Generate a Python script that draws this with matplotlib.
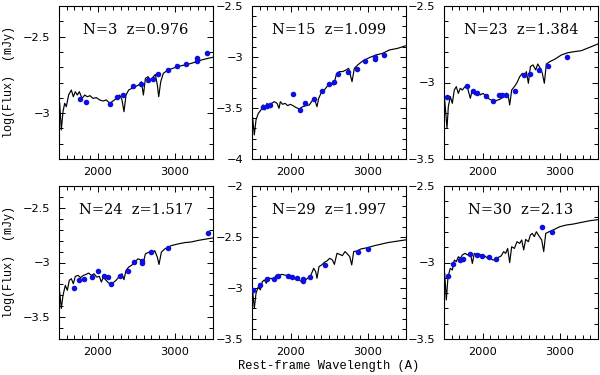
import matplotlib
matplotlib.use("Agg")
import matplotlib.pyplot as plt
from matplotlib.ticker import MultipleLocator, FuncFormatter

# model spectra (rest-frame wavelength in A, log flux in mJy) and photometry
wl_n3 = [1500, 1509, 1530, 1552, 1574, 1595, 1626, 1660, 1686, 1712, 1738, 1764, 1799, 1834,
         1868, 1903, 1942, 1985, 2028, 2072, 2115, 2158, 2202, 2245, 2288, 2318, 2344, 2370,
         2405, 2448, 2492, 2535, 2570, 2596, 2622, 2656, 2691, 2725, 2751, 2777, 2795, 2821,
         2855, 2916, 3003, 3089, 3176, 3262, 3349, 3436, 3500]
fl_n3 = [-2.914, -2.936, -3.11, -2.99, -2.936, -2.958, -2.88, -2.849, -2.893, -2.86, -2.882,
         -2.86, -2.904, -2.882, -2.893, -2.886, -2.904, -2.899, -2.914, -2.921, -2.914, -2.936,
         -2.921, -2.904, -2.882, -2.914, -2.991, -2.882, -2.849, -2.838, -2.827, -2.816, -2.795,
         -2.882, -2.773, -2.762, -2.784, -2.762, -2.747, -2.816, -2.893, -2.795, -2.74, -2.718,
         -2.703, -2.69, -2.681, -2.668, -2.653, -2.642, -2.635]
pw_n3 = [1770, 1848, 2160, 2254, 2332, 2462, 2563, 2652, 2722, 2782, 2916, 3035, 3152, 3287,
         3287, 3426]
pf_n3 = [-2.906, -2.928, -2.941, -2.896, -2.881, -2.822, -2.808, -2.785, -2.775, -2.745,
         -2.717, -2.69, -2.681, -2.66, -2.64, -2.606]

wl_n15 = [1500, 1509, 1530, 1552, 1582, 1617, 1643, 1669, 1695, 1725, 1755, 1790, 1825, 1851,
          1868, 1898, 1929, 1963, 1998, 2033, 2072, 2115, 2158, 2202, 2245, 2288, 2323, 2344,
          2366, 2396, 2440, 2483, 2526, 2561, 2596, 2634, 2678, 2721, 2756, 2777, 2799, 2829,
          2873, 2938, 3024, 3111, 3197, 3284, 3392, 3500]
fl_n15 = [-3.568, -3.6, -3.764, -3.617, -3.552, -3.519, -3.47, -3.519, -3.454, -3.487, -3.454,
          -3.438, -3.454, -3.503, -3.438, -3.464, -3.454, -3.477, -3.464, -3.477, -3.496, -3.509,
          -3.487, -3.477, -3.47, -3.421, -3.438, -3.487, -3.405, -3.356, -3.323, -3.281, -3.258,
          -3.274, -3.17, -3.143, -3.143, -3.127, -3.111, -3.176, -3.242, -3.111, -3.078, -3.039,
          -3.006, -2.98, -2.964, -2.931, -2.915, -2.889]
pw_n15 = [1648, 1690, 1736, 2028, 2120, 2188, 2310, 2405, 2496, 2561, 2613, 2743, 2860, 2968,
          3098, 3098, 3219]
pf_n15 = [-3.487, -3.477, -3.47, -3.366, -3.52, -3.454, -3.411, -3.333, -3.268, -3.242, -3.166,
          -3.143, -3.117, -3.036, -2.996, -3.023, -2.98]

wl_n23 = [1500, 1509, 1539, 1556, 1582, 1608, 1634, 1660, 1686, 1712, 1738, 1773, 1807, 1842,
          1868, 1903, 1937, 1972, 2007, 2050, 2093, 2136, 2180, 2223, 2266, 2310, 2336, 2353,
          2379, 2414, 2448, 2483, 2518, 2544, 2570, 2596, 2622, 2656, 2691, 2717, 2751, 2777,
          2803, 2829, 2873, 2938, 3024, 3111, 3197, 3284, 3392, 3500]
fl_n23 = [-3.092, -3.114, -3.299, -3.158, -3.092, -3.136, -3.049, -3.027, -3.071, -3.038,
          -3.049, -3.027, -3.038, -3.103, -3.049, -3.081, -3.06, -3.081, -3.071, -3.092, -3.11,
          -3.118, -3.118, -3.11, -3.097, -3.071, -3.092, -3.147, -3.049, -3.027, -3.001, -2.962,
          -2.94, -2.962, -2.929, -3.005, -2.896, -2.885, -2.918, -2.879, -2.907, -2.94, -3.005,
          -2.879, -2.864, -2.848, -2.82, -2.805, -2.798, -2.792, -2.77, -2.748]
pw_n23 = [1533, 1797, 1871, 1933, 2046, 2133, 2212, 2258, 2306, 2422, 2535, 2619, 2732, 2852,
          3096]
pf_n23 = [-3.093, -3.025, -3.053, -3.066, -3.086, -3.119, -3.08, -3.08, -3.08, -3.054, -2.951,
          -2.942, -2.92, -2.895, -2.831]

wl_n24 = [1500, 1509, 1530, 1552, 1582, 1608, 1634, 1660, 1686, 1712, 1747, 1781, 1816, 1851,
          1885, 1920, 1955, 1989, 2024, 2050, 2076, 2111, 2145, 2180, 2214, 2249, 2292, 2318,
          2344, 2370, 2405, 2440, 2483, 2526, 2561, 2587, 2622, 2665, 2708, 2743, 2777, 2799,
          2829, 2873, 2960, 3046, 3133, 3219, 3306, 3414, 3500]
fl_n24 = [-3.254, -3.27, -3.421, -3.3, -3.209, -3.254, -3.163, -3.148, -3.194, -3.127, -3.118,
          -3.139, -3.118, -3.109, -3.097, -3.118, -3.103, -3.133, -3.127, -3.179, -3.133, -3.163,
          -3.188, -3.2, -3.179, -3.157, -3.118, -3.103, -3.157, -3.073, -3.042, -3.027, -2.997,
          -2.966, -2.976, -3.027, -2.921, -2.906, -2.921, -2.891, -2.951, -3.018, -2.906, -2.876,
          -2.845, -2.83, -2.818, -2.812, -2.798, -2.785, -2.775]
pw_n24 = [1693, 1764, 1827, 1927, 2007, 2087, 2134, 2180, 2290, 2390, 2474, 2584, 2584, 2691,
          2922, 3430]
pf_n24 = [-3.234, -3.164, -3.155, -3.133, -3.078, -3.121, -3.136, -3.198, -3.121, -3.079,
          -2.997, -2.99, -3.0, -2.906, -2.868, -2.728]

wl_n29 = [1500, 1509, 1530, 1552, 1582, 1608, 1634, 1660, 1686, 1712, 1747, 1781, 1816, 1851,
          1885, 1920, 1955, 1989, 2024, 2059, 2093, 2128, 2162, 2197, 2232, 2266, 2301, 2327,
          2344, 2370, 2405, 2440, 2474, 2509, 2544, 2570, 2604, 2639, 2673, 2708, 2743, 2769,
          2795, 2821, 2864, 2916, 3003, 3089, 3176, 3262, 3392, 3500]
fl_n29 = [-3.003, -3.036, -3.199, -3.052, -2.987, -3.019, -2.938, -2.921, -2.954, -2.905,
          -2.905, -2.921, -2.872, -2.879, -2.866, -2.872, -2.879, -2.872, -2.898, -2.911,
          -2.905, -2.931, -2.944, -2.921, -2.898, -2.872, -2.807, -2.84, -2.905, -2.79, -2.774,
          -2.748, -2.735, -2.709, -2.725, -2.768, -2.66, -2.67, -2.683, -2.643, -2.67, -2.692,
          -2.774, -2.643, -2.637, -2.617, -2.604, -2.585, -2.57, -2.555, -2.54, -2.528]
pw_n29 = [1515, 1600, 1690, 1786, 1843, 1973, 2021, 2088, 2167, 2167, 2253, 2448, 2881, 3003]
pf_n29 = [-3.02, -2.97, -2.915, -2.915, -2.879, -2.88, -2.89, -2.899, -2.91, -2.93, -2.889,
          -2.775, -2.644, -2.62]

wl_n30 = [1500, 1509, 1530, 1552, 1582, 1608, 1634, 1660, 1686, 1712, 1738, 1773, 1807, 1842,
          1868, 1894, 1929, 1963, 1998, 2033, 2067, 2102, 2136, 2171, 2206, 2240, 2275, 2301,
          2327, 2353, 2379, 2414, 2448, 2483, 2509, 2535, 2561, 2596, 2622, 2647, 2673, 2699,
          2734, 2769, 2795, 2821, 2864, 2916, 3003, 3089, 3176, 3262, 3392, 3500]
fl_n30 = [-3.06, -3.071, -3.245, -3.093, -3.038, -3.049, -2.984, -2.995, -2.962, -2.973,
          -2.951, -2.94, -2.951, -2.936, -3.006, -2.94, -2.951, -2.945, -2.962, -2.958, -2.973,
          -2.973, -2.984, -2.979, -2.966, -2.958, -2.929, -2.94, -2.908, -3.001, -2.897, -2.908,
          -2.864, -2.875, -2.853, -2.918, -2.849, -2.864, -2.82, -2.81, -2.831, -2.799, -2.827,
          -2.853, -2.929, -2.81, -2.799, -2.788, -2.766, -2.755, -2.749, -2.74, -2.727, -2.72]
pw_n30 = [1556, 1621, 1708, 1751, 1838, 1925, 1990, 2088, 2175, 2769, 2899]
pf_n30 = [-3.088, -3.01, -2.984, -2.979, -2.944, -2.95, -2.958, -2.966, -2.979, -2.766, -2.799]

labels = ["N=3  z=0.976", "N=15  z=1.099", "N=23  z=1.384",
          "N=24  z=1.517", "N=29  z=1.997", "N=30  z=2.13"]
lines = [(wl_n3, fl_n3), (wl_n15, fl_n15), (wl_n23, fl_n23),
         (wl_n24, fl_n24), (wl_n29, fl_n29), (wl_n30, fl_n30)]
phot = [(pw_n3, pf_n3), (pw_n15, pf_n15), (pw_n23, pf_n23),
        (pw_n24, pf_n24), (pw_n29, pf_n29), (pw_n30, pf_n30)]
ylims = [(-3.3, -2.3), (-4.0, -2.5), (-3.5, -2.5),
         (-3.7, -2.3), (-3.5, -2.0), (-3.5, -2.5)]

fig = plt.figure(figsize=(6.0, 3.75), dpi=100)

lefts = [59, 252, 444]
bottoms = [159, 339]  # pixel rows of lower axis edge
W, H = 600.0, 375.0

fmt = FuncFormatter(lambda v, p: ("%g" % v).replace("-", "\u2212"))

for i in range(6):
    r, c = divmod(i, 3)
    ax = fig.add_axes([lefts[c] / W, 1 - bottoms[r] / H, 154 / W, 153 / H])
    wl, fl = lines[i]
    ax.plot(wl, fl, color="black", lw=0.85, zorder=2)
    pw, pf = phot[i]
    ax.plot(pw, pf, "o", color="#0b0fe0", ms=4.0, mec="none", zorder=3)
    ax.set_xlim(1500, 3500)
    ax.set_ylim(*ylims[i])
    ax.xaxis.set_major_locator(MultipleLocator(1000))
    ax.xaxis.set_minor_locator(MultipleLocator(100))
    ax.yaxis.set_major_locator(MultipleLocator(0.5))
    ax.yaxis.set_minor_locator(MultipleLocator(0.1))
    ax.yaxis.set_major_formatter(fmt)
    ax.tick_params(which="both", direction="in", top=True, right=True,
                   width=0.7, labelsize=8.2, pad=6)
    ax.tick_params(which="major", length=4.5)
    ax.tick_params(which="minor", length=2.8)
    for s in ax.spines.values():
        s.set_linewidth(0.8)
    ax.text(0.5, 0.84, labels[i], transform=ax.transAxes, ha="center", va="center",
            family="DejaVu Serif", fontsize=10.5)

mono = "Liberation Mono"
fig.text(9 / W, 1 - 82 / H, "log(Flux)  (mJy)", rotation=90, ha="center", va="center",
         family=mono, fontsize=8.5)
fig.text(9 / W, 1 - 262 / H, "log(Flux)  (mJy)", rotation=90, ha="center", va="center",
         family=mono, fontsize=8.5)
fig.text(329 / W, 1 - 366 / H, "Rest-frame Wavelength (A)", ha="center", va="center",
         family=mono, fontsize=8.7)

fig.savefig("out.png", dpi=100)
